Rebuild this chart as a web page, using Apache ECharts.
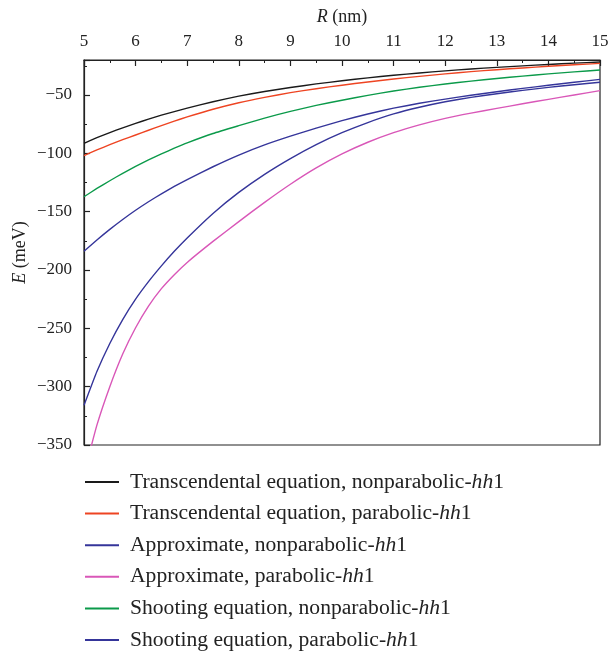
<!DOCTYPE html>
<html><head><meta charset="utf-8">
<script src="https://cdn.jsdelivr.net/npm/echarts@6/dist/echarts.min.js"></script>
<style>html,body{margin:0;padding:0;background:#fff}#c{width:610px;height:651px}</style>
</head><body><div id="c"></div>
<script>
const xValues = [5,5.25,5.5,5.75,6,6.25,6.5,6.75,7,7.5,8,8.5,9,9.5,10,10.5,11,11.5,12,12.5,13,13.5,14,14.5,15];
const transNonPar = [-91.4,-86.6,-82.2,-78.1,-74.3,-70.7,-67.3,-64.2,-61.2,-55.8,-51,-47,-43.6,-40.5,-37.8,-35.3,-33.1,-31.1,-29.3,-27.7,-26.3,-25,-23.8,-22.7,-21.7];
const transPar = [-102,-97.1,-92.6,-88.3,-84.3,-80.2,-76.2,-72.4,-68.8,-62.2,-56.6,-52,-48,-44.6,-41.6,-38.8,-36.3,-34,-31.9,-30,-28.3,-26.8,-25.4,-24.1,-22.9];
const approxNonPar = [-316,-287,-263,-242.5,-225,-210,-196.5,-184,-172.5,-151.5,-133.5,-118,-104.5,-92.5,-82.3,-73.6,-66.2,-60.5,-55.8,-52,-48.9,-46,-43.5,-41.2,-39.1];
const approxPar = [-375,-333,-300,-272,-249.5,-231,-216,-204,-193.5,-175.5,-158.5,-142,-126.5,-112.5,-100.5,-90.5,-82.3,-75.6,-70,-65.5,-61.5,-57.5,-53.7,-50,-46.3];
const shootNonPar = [-137.2,-130.1,-123.5,-117.1,-111.2,-105.7,-100.5,-95.6,-91,-83,-76.3,-69.8,-64,-58.9,-54.5,-50.3,-46.6,-43.4,-40.6,-38.1,-35.8,-33.8,-31.9,-30.2,-28.6];
const shootPar = [-184,-174.3,-165.2,-156.7,-148.8,-141.5,-134.7,-128.4,-122.5,-111.5,-101.5,-92.8,-85.3,-78.4,-72,-66.3,-61.3,-57.1,-53.5,-50.2,-47.2,-44.3,-41.7,-39.1,-36.6];
const seriesNames = [
  'Transcendental equation, nonparabolic-hh1',
  'Transcendental equation, parabolic-hh1',
  'Approximate, nonparabolic-hh1',
  'Approximate, parabolic-hh1',
  'Shooting equation, nonparabolic-hh1',
  'Shooting equation, parabolic-hh1'
];
const seriesValues = [transNonPar, transPar, approxNonPar, approxPar, shootNonPar, shootPar];
const colors = ['#1a1a1a','#ee4422','#35359a','#d957b8','#0b9a4a','#35359a'];

const font = 'Liberation Serif, Times New Roman, serif';
const chart = echarts.init(document.getElementById('c'), null, {renderer:'canvas'});
chart.setOption({
  animation:false,
  backgroundColor:'#fff',
  grid:{left:84,right:10,top:60,bottom:206,outerBoundsMode:'none',containLabel:false,show:true,borderColor:'#222',borderWidth:1.2,backgroundColor:'transparent'},
  xAxis:{type:'value',position:'top',min:5,max:15,interval:1,
    name:'{i|R} (nm)',nameLocation:'middle',nameGap:34,
    nameTextStyle:{fontFamily:font,fontSize:18,color:'#222',rich:{i:{fontFamily:font,fontSize:18,fontStyle:'italic',color:'#222'}}},
    axisLine:{lineStyle:{color:'#222',width:1.2}},
    axisTick:{inside:true,length:6,lineStyle:{color:'#222',width:1.2}},
    minorTick:{show:true,splitNumber:2,length:3,lineStyle:{color:'#222',width:1}},
    axisLabel:{fontFamily:font,fontSize:17,color:'#222',margin:10},
    splitLine:{show:false}},
  yAxis:{type:'value',min:-350,max:-20,interval:50,
    name:'{i|E} (meV)',nameLocation:'middle',nameGap:55,nameMoveOverlap:false,
    nameTextStyle:{fontFamily:font,fontSize:18,color:'#222',rich:{i:{fontFamily:font,fontSize:18,fontStyle:'italic',color:'#222'}}},
    axisLine:{show:true,lineStyle:{color:'#222',width:1.2}},
    axisTick:{inside:true,length:6,lineStyle:{color:'#222',width:1.2}},
    minorTick:{show:true,splitNumber:2,length:3,lineStyle:{color:'#222',width:1}},
    axisLabel:{fontFamily:font,fontSize:17,color:'#222',margin:12,
      formatter:v=> (v%50===0 ? String(v).replace('-','\u2212') : '')},
    splitLine:{show:false}},
  legend:{orient:'vertical',left:85,top:471,padding:0,height:180,itemGap:9.6,itemWidth:34,itemHeight:2,icon:'rect',
    data:seriesNames,
    formatter:n=>n.replace('hh1','{i|hh}1'),
    textStyle:{fontFamily:font,fontSize:21.6,color:'#222',lineHeight:22,padding:[0,0,0,6],
      rich:{i:{fontFamily:font,fontSize:21.6,fontStyle:'italic',color:'#222',lineHeight:22}}}},
  series:seriesNames.map((n,i)=>({
    name:n,type:'line',smooth:0.15,showSymbol:false,symbol:'none',clip:true,
    color:colors[i],lineStyle:{color:colors[i],width:1.4,join:'round'},
    data:xValues.map((x,j)=>[x,seriesValues[i][j]])
  }))
});
</script></body></html>
